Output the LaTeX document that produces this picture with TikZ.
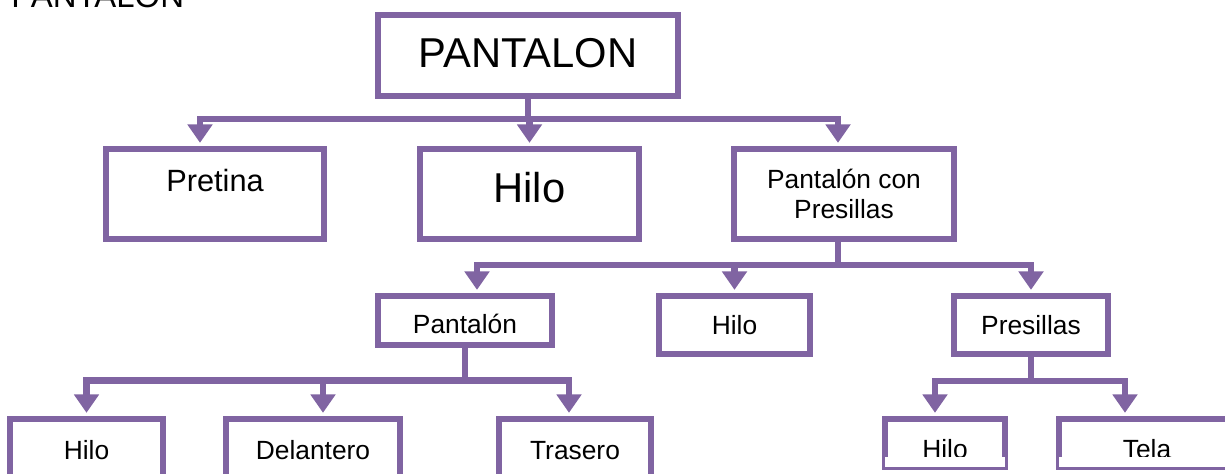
\documentclass[tikz,border=0pt]{standalone}
\usepackage{fontspec}
\setmainfont{Liberation Sans}
\usetikzlibrary{arrows.meta,calc}
\definecolor{morado}{HTML}{8064A2}
\tikzset{
  caja/.style={draw=morado, line width=2.8pt, fill=white, inner sep=0pt, align=center},
  flecha/.style={draw=morado, line width=2.8pt, -{Triangle[width=11pt,length=8.4pt]}, shorten >=1.4pt},
  chica/.style={font=\fontsize{12}{14}\selectfont},
}

\begin{document}
\begin{tikzpicture}[x=0.016cm, y=-0.016cm]
  \useasboundingbox (0,0) rectangle (1225,473);
  \clip (0,0) rectangle (1225,473);
  \node[anchor=base west, inner sep=0pt, font=\fontsize{15}{18}\selectfont] (titulo) at (11,7) {PANTALON};
  % nivel 1
  \node[caja, minimum width=136.6pt, minimum height=36.9pt, font=\fontsize{19}{22}\selectfont,
        text height=13.6pt, text depth=3.1pt] (pantalon) at (528,55.5) {PANTALON};
  % nivel 2
  \node[caja, minimum width=99.3pt, minimum height=41pt, font=\fontsize{14}{17}\selectfont,
        text height=10pt, text depth=12.7pt] (pretina) at (215,194) {Pretina};
  \node[caja, minimum width=99.7pt, minimum height=41pt, font=\fontsize{19}{22}\selectfont,
        text height=13.6pt, text depth=6.3pt] (hilo) at (529.5,194) {Hilo};
  \node[caja, chica, minimum width=100.2pt, minimum height=41pt] (conpresillas) at (844,194) {Pantalón con\\Presillas};
  % nivel 3
  \node[caja, chica, minimum width=79.2pt, minimum height=22.3pt,
        text height=11.4pt, text depth=0pt] (pantal) at (465,320.5) {Pantalón};
  \node[caja, chica, minimum width=68.8pt, minimum height=26.4pt,
        text height=8.7pt, text depth=0pt] (hilodos) at (734.5,325) {Hilo};
  \node[caja, chica, minimum width=70.1pt, minimum height=26.4pt,
        text height=8.7pt, text depth=0pt] (presillas) at (1031,325) {Presillas};
  % nivel 4
  \node[caja, chica, minimum width=69.7pt, minimum height=27.8pt,
        text height=8.7pt, text depth=0pt] (hilotres) at (86.5,449.5) {Hilo};
  \node[caja, chica, minimum width=79.2pt, minimum height=27.8pt,
        text height=8.7pt, text depth=0pt] (delantero) at (313,449.5) {Delantero};
  \node[caja, chica, minimum width=69.2pt, minimum height=27.8pt,
        text height=8.7pt, text depth=0pt] (trasero) at (575,449.5) {Trasero};
  \node[caja, chica, minimum width=54.6pt, minimum height=21.9pt,
        text height=13.7pt, text depth=0pt] (hilocuatro) at (945,443) {Hilo};
  \node[caja, chica, minimum width=80.1pt, minimum height=21.9pt,
        text height=13.7pt, text depth=0pt] (tela) at (1147,443) {Tela};
  % texto cortado abajo
  \fill[white] ($(hilocuatro.south west)+(3.5,-3.5)$) rectangle ($(hilocuatro.south east)+(-3.5,-13)$);
  \fill[white] ($(tela.south west)+(3.5,-3.5)$) rectangle ($(tela.south east)+(-3.5,-13)$);
  % flechas
  \draw[flecha] (pantalon.south) -- ++(0,20) -| ($(pretina.north)+(-15,0)$);
  \draw[flecha] (pantalon.south) -- ++(0,20) -| (hilo.north);
  \draw[flecha] (pantalon.south) -- ++(0,20) -| ($(conpresillas.north)+(-6,0)$);
  \draw[flecha] ($(conpresillas.south)+(-6,0)$) -- ++(0,22.5) -| ($(pantal.north)+(12,0)$);
  \draw[flecha] ($(conpresillas.south)+(-6,0)$) -- ++(0,22.5) -| (hilodos.north);
  \draw[flecha] ($(conpresillas.south)+(-6,0)$) -- ++(0,22.5) -| (presillas.north);
  \draw[flecha] (pantal.south) -- ++(0,32.5) -| (hilotres.north);
  \draw[flecha] (pantal.south) -- ++(0,32.5) -| ($(delantero.north)+(10,0)$);
  \draw[flecha] (pantal.south) -- ++(0,32.5) -| ($(trasero.north)+(-6,0)$);
  \draw[flecha] (presillas.south) -- ++(0,24) -| ($(hilocuatro.north)+(-10,0)$);
  \draw[flecha] (presillas.south) -- ++(0,24) -| ($(tela.north)+(-22,0)$);
\end{tikzpicture}
\end{document}
